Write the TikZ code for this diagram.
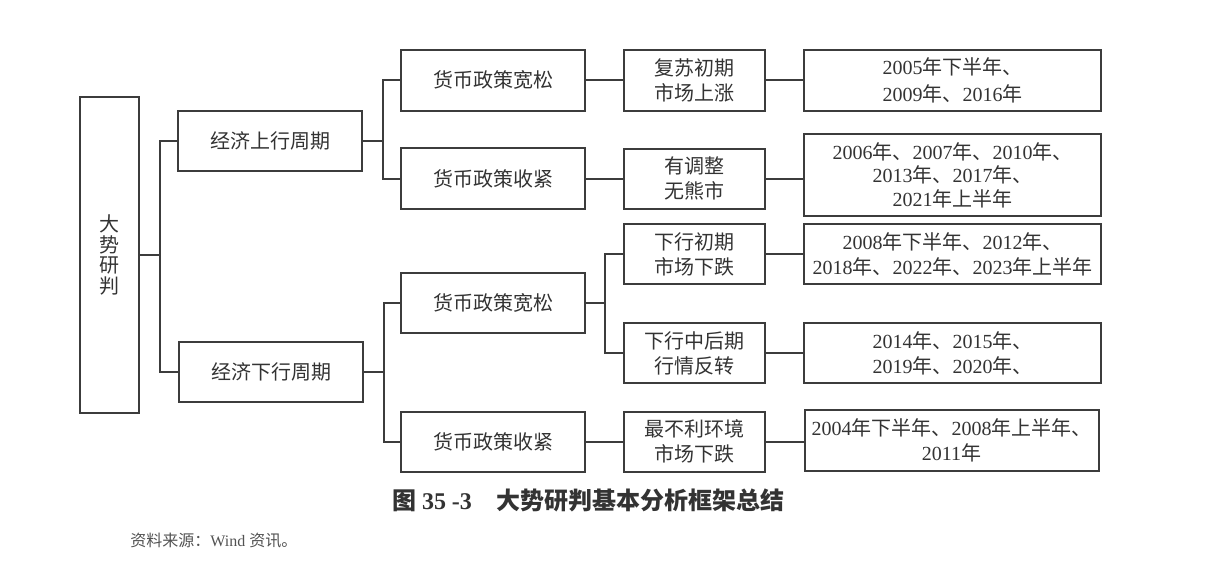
\documentclass[tikz,border=0pt]{standalone}
\usepackage{fontspec}
\setmainfont{Liberation Serif}
\newfontfamily\cjk{Noto Sans CJK SC}
\usetikzlibrary{positioning,calc}
\definecolor{linec}{HTML}{3C3C3C}
\definecolor{txtc}{HTML}{333333}
\newcommand{\zh}[1]{{\cjk #1}}
\tikzset{
  box/.style={draw=linec, line width=1pt, text=txtc, align=center, inner sep=0pt,
              font=\fontsize{10}{12.5}\selectfont},
  conn/.style={draw=linec, line width=1pt},
}

\begin{document}
\begin{tikzpicture}[x=0.5pt, y=-0.5pt]
    \useasboundingbox (0,0) rectangle (1218,585);
    % Root
    \node[box, minimum width=29.5pt, minimum height=158pt,
          font=\fontsize{10}{10.3}\selectfont\cjk] (root) at (109.5,255) {大\\势\\研\\判};
    % Cycles
    \node[box, minimum width=92pt, minimum height=30pt, font=\cjk] (up) at (270,141) {经济上行周期};
    \node[box, minimum width=92pt, minimum height=30pt, font=\cjk] (dn) at (271,372) {经济下行周期};
    % Monetary policy
    \node[box, minimum width=92pt, minimum height=30.5pt, font=\cjk] (upA) at (493,80) {货币政策宽松};
    \node[box, minimum width=92pt, minimum height=30.5pt, font=\cjk] (upB) at (493,178.5) {货币政策收紧};
    \node[box, minimum width=92pt, minimum height=30pt, font=\cjk] (dnA) at (493,303) {货币政策宽松};
    \node[box, minimum width=92pt, minimum height=30pt, font=\cjk] (dnB) at (493,441.5) {货币政策收紧};
    % Market
    \node[box, minimum width=70.5pt, minimum height=30.5pt, font=\fontsize{10}{12.5}\selectfont\cjk] (mkA) at (694.5,80) {复苏初期\\市场上涨};
    \node[box, minimum width=70.5pt, minimum height=30pt, font=\fontsize{10}{12.5}\selectfont\cjk] (mkB) at (694.5,178.5) {有调整\\无熊市};
    \node[box, minimum width=70.5pt, minimum height=30pt, font=\fontsize{10}{12.5}\selectfont\cjk] (mkC) at (694.5,254) {下行初期\\市场下跌};
    \node[box, minimum width=70.5pt, minimum height=30pt, font=\fontsize{10}{12.5}\selectfont\cjk] (mkD) at (694.5,353) {下行中后期\\行情反转};
    \node[box, minimum width=70.5pt, minimum height=30pt, font=\fontsize{10}{12.5}\selectfont\cjk] (mkE) at (694.5,441.5) {最不利环境\\市场下跌};
    % Years
    \node[box, minimum width=148.5pt, minimum height=30.5pt, font=\fontsize{10}{13.5}\selectfont] (yrA) at (952.5,80)
         {2005\zh{年下半年、}\\2009\zh{年、}2016\zh{年}};
    \node[box, minimum width=148.5pt, minimum height=41pt, font=\fontsize{10}{11.75}\selectfont] (yrB) at (952.5,175)
         {2006\zh{年、}2007\zh{年、}2010\zh{年、}\\2013\zh{年、}2017\zh{年、}\\2021\zh{年上半年}};
    \node[box, minimum width=148.5pt, minimum height=30pt] (yrC) at (952.5,254)
         {2008\zh{年下半年、}2012\zh{年、}\\2018\zh{年、}2022\zh{年、}2023\zh{年上半年}};
    \node[box, minimum width=148.5pt, minimum height=30pt] (yrD) at (952.5,353)
         {2014\zh{年、}2015\zh{年、}\\2019\zh{年、}2020\zh{年、}};
    \node[box, minimum width=147pt, minimum height=30.5pt] (yrE) at (951.5,440.5)
         {2004\zh{年下半年、}2008\zh{年上半年、}\\2011\zh{年}};
    % Connectors
    \draw[conn] (root.east) -- ++(20,0) coordinate (t0) |- (up.west);
    \draw[conn] (t0) |- (dn.west);
    \draw[conn] (up.east) -- ++(20,0) coordinate (t1) |- (upA.west);
    \draw[conn] (t1) |- (upB.west);
    \draw[conn] (dn.east) -- ++(20,0) coordinate (t2) |- (dnA.west);
    \draw[conn] (t2) |- (dnB.west);
    \draw[conn] (dnA.east) -- ++(19,0) coordinate (t3) |- (mkC.west);
    \draw[conn] (t3) |- (mkD.west);
    \draw[conn] (upA.east) -- (mkA.west);
    \draw[conn] (upB.east) -- (mkB.west);
    \draw[conn] (dnB.east) -- (mkE.west);
    \draw[conn] (mkA.east) -- (yrA.west);
    \draw[conn] (mkB.east) -- (mkB.east -| yrB.west);
    \draw[conn] (mkC.east) -- (yrC.west);
    \draw[conn] (mkD.east) -- (yrD.west);
    \draw[conn] (mkE.east) -- (mkE.east -| yrE.west);
    % Caption and source
    \node[text=txtc, font=\fontsize{12}{14}\selectfont\bfseries, anchor=center] (cap) at (588,500)
         {\zh{图} 35 -3\hspace{1em}\zh{大势研判基本分析框架总结}};
    \node[text=txtc!85, font=\fontsize{8}{10}\selectfont, anchor=west, inner sep=0pt] (src) at (130,541)
         {\zh{资料来源：}Wind \zh{资讯。}};
\end{tikzpicture}
\end{document}
